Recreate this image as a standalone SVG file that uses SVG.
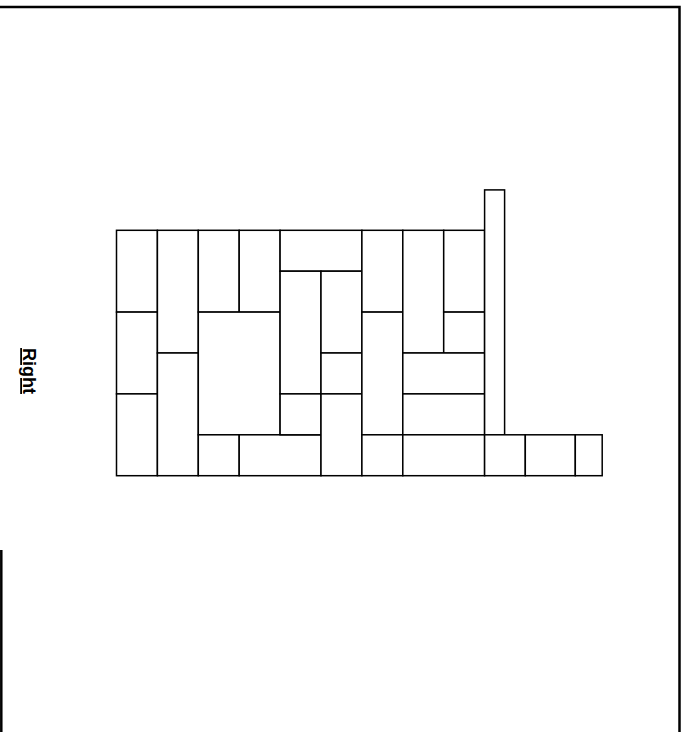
<svg xmlns="http://www.w3.org/2000/svg" width="681" height="732" viewBox="0 0 681 732">
<style>
.t{fill:#fff;stroke:#000;stroke-width:1.5}
.b{fill:none;stroke:#000;stroke-width:2.5}
.lbl{font-family:"Liberation Sans",Arial,sans-serif;font-weight:bold;font-size:18px;text-decoration:underline;fill:#000}
</style>
<rect width="681" height="732" fill="#fff"/>
<g id="frame">
<polyline class="b" points="0,7 679.5,7 679.5,732"/>
<line class="b" x1="1.3" y1="550" x2="1.3" y2="732"/>
</g>
<g id="label">
<text class="lbl" transform="translate(23,371) rotate(90)" text-anchor="middle">Right</text>
</g>
<g id="tiles">
<rect id="t1" class="t" x="116.5" y="230.3" width="40.9" height="81.8"/>
<rect id="t2" class="t" x="116.5" y="312.1" width="40.9" height="81.8"/>
<rect id="t3" class="t" x="116.5" y="393.9" width="40.9" height="81.8"/>
<rect id="t4" class="t" x="157.4" y="230.3" width="40.9" height="122.7"/>
<rect id="t5" class="t" x="157.4" y="353.0" width="40.9" height="122.7"/>
<rect id="t6" class="t" x="198.3" y="230.3" width="40.9" height="81.8"/>
<rect id="t7" class="t" x="239.2" y="230.3" width="40.9" height="81.8"/>
<rect id="t8" class="t" x="198.3" y="312.1" width="81.8" height="122.7"/>
<rect id="t9" class="t" x="198.3" y="434.8" width="40.9" height="40.9"/>
<rect id="t10" class="t" x="239.2" y="434.8" width="81.8" height="40.9"/>
<rect id="t11" class="t" x="280.1" y="230.3" width="81.8" height="40.9"/>
<rect id="t12" class="t" x="280.1" y="271.2" width="40.9" height="122.7"/>
<rect id="t13" class="t" x="280.1" y="393.9" width="40.9" height="40.9"/>
<rect id="t14" class="t" x="321.0" y="271.2" width="40.9" height="81.8"/>
<rect id="t15" class="t" x="321.0" y="353.0" width="40.9" height="40.9"/>
<rect id="t16" class="t" x="321.0" y="393.9" width="40.9" height="81.8"/>
<rect id="t17" class="t" x="361.9" y="230.3" width="40.9" height="81.8"/>
<rect id="t18" class="t" x="361.9" y="312.1" width="40.9" height="122.7"/>
<rect id="t19" class="t" x="361.9" y="434.8" width="40.9" height="40.9"/>
<rect id="t20" class="t" x="402.8" y="230.3" width="40.9" height="122.7"/>
<rect id="t21" class="t" x="443.7" y="230.3" width="40.9" height="81.8"/>
<rect id="t22" class="t" x="443.7" y="312.1" width="40.9" height="40.9"/>
<rect id="t23" class="t" x="402.8" y="353.0" width="81.8" height="40.9"/>
<rect id="t24" class="t" x="402.8" y="393.9" width="81.8" height="40.9"/>
<rect id="t25" class="t" x="402.8" y="434.8" width="81.8" height="40.9"/>
<rect id="t26" class="t" x="484.6" y="189.9" width="20.0" height="244.9"/>
<rect id="t27" class="t" x="484.6" y="434.8" width="40.7" height="40.9"/>
<rect id="t28" class="t" x="525.3" y="434.8" width="50.0" height="40.9"/>
<rect id="t29" class="t" x="575.3" y="434.8" width="26.9" height="40.9"/>
</g>
</svg>
